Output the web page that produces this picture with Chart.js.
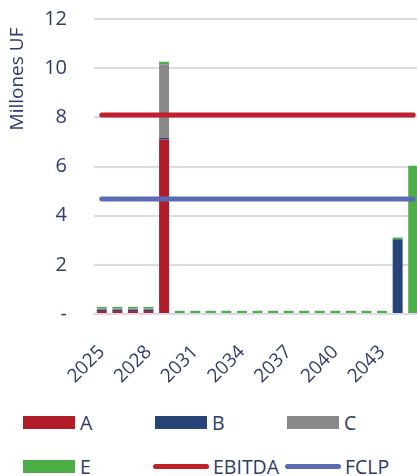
<!DOCTYPE html>
<html>
<head>
<meta charset="utf-8">
<script src="https://cdn.jsdelivr.net/npm/chart.js@4"></script>
<style>
  html, body { margin: 0; padding: 0; background: #fff; overflow: hidden; }
  body { width: 417px; height: 476px; position: relative; font-family: "Open Sans", sans-serif; }
  #wrap { position: absolute; left: 0; top: 0; width: 421px; height: 392px; }
  #legend { position: absolute; left: 0; top: 400px; width: 417px; height: 76px; }
  .item { position: absolute; display: flex; align-items: center; height: 26px; font-size: 19.5px; color: #2E3A6B; }
  .sw { display: inline-block; width: 52px; height: 13px; margin-right: 5px; }
  .ln { display: inline-block; width: 56px; height: 5px; border-radius: 3px; margin-right: 4px; }
</style>
</head>
<body>
<div id="wrap"><canvas id="c"></canvas></div>
<div id="legend"></div>
<script>
// Years on the category axis
const years = ["2025","2026","2027","2028","2029","2030","2031","2032","2033","2034","2035",
               "2036","2037","2038","2039","2040","2041","2042","2043","2044","2045"];

// Stacked components (Millones UF)
const serieA = [0.12,0.12,0.12,0.12,7.10,0,0,0,0,0,0,0,0,0,0,0,0,0,0,0,0];
const serieB = [0.06,0.06,0.06,0.06,0.07,0.04,0.04,0.04,0.04,0.04,0.04,0.04,0.04,0.04,0.04,0.04,0.04,0.04,0.04,3.04,0];
const serieC = [0.04,0.04,0.04,0.04,2.99,0,0,0,0,0,0,0,0,0,0,0,0,0,0,0,0];
const serieE = [0.07,0.07,0.07,0.07,0.10,0.09,0.09,0.09,0.09,0.09,0.09,0.09,0.09,0.09,0.09,0.09,0.09,0.09,0.09,0.07,6.03];

// Reference levels
const ebitda = years.map(() => 8.1);
const fclp   = years.map(() => 4.68);

// Y ticks
const yTicks = [0, 2, 4, 6, 8, 10, 12];

const TEXT = "#2E3A6B";
const GRID = "#D9DBEA";

const barSets = [
  { label: "A", data: serieA, color: "#B21C28" },
  { label: "B", data: serieB, color: "#264478" },
  { label: "C", data: serieC, color: "#888888" },
  { label: "E", data: serieE, color: "#4CAE47" }
];
const lineSets = [
  { label: "EBITDA", data: ebitda, color: "#C01F2C" },
  { label: "FCLP",   data: fclp,   color: "#5A6BB2" }
];

const datasets = [
  ...barSets.map(s => ({
    type: "bar", label: s.label, data: s.data, backgroundColor: s.color,
    stack: "bars", order: 1, categoryPercentage: 0.8, barPercentage: 0.8
  })),
  ...lineSets.map((s, i) => ({
    type: "line", label: s.label, data: s.data, borderColor: s.color,
    backgroundColor: s.color, borderWidth: 5, borderCapStyle: "round",
    pointRadius: 0, stack: "line" + i, order: 0
  }))
];

// Rotated axis title near the top of the value axis
const yTitle = {
  id: "yTitle",
  afterDraw(chart) {
    const ctx = chart.ctx;
    ctx.save();
    ctx.translate(18, chart.chartArea.top + 60);
    ctx.rotate(-Math.PI / 2);
    ctx.font = "19px 'Open Sans'";
    ctx.fillStyle = TEXT;
    ctx.textAlign = "center";
    ctx.textBaseline = "middle";
    ctx.fillText("Millones UF", 0, 0);
    ctx.restore();
  }
};

new Chart(document.getElementById("c"), {
  data: { labels: years, datasets },
  options: {
    responsive: true,
    maintainAspectRatio: false,
    animation: false,
    layout: { padding: { top: 19, right: 0, bottom: 0, left: 0 } },
    plugins: { legend: { display: false }, tooltip: { enabled: false } },
    scales: {
      x: {
        stacked: true,
        grid: { display: false, drawTicks: false },
        border: { display: true, color: GRID, width: 2 },
        ticks: {
          autoSkip: false, minRotation: 45, maxRotation: 45, padding: 27,
          color: TEXT, font: { family: "Open Sans", size: 19 },
          callback: function (v, i) { return i % 3 === 0 ? this.getLabelForValue(v) : ""; }
        },
        afterFit(s) { s.height = 78; s.paddingLeft = 0; s.paddingRight = 0; }
      },
      y: {
        stacked: true, min: 0, max: 12,
        afterBuildTicks(s) { s.ticks = yTicks.map(v => ({ value: v })); },
        grid: { color: GRID, lineWidth: 2, drawTicks: false },
        border: { display: false },
        ticks: {
          padding: 27, color: TEXT, font: { family: "Open Sans", size: 20 },
          callback: v => v === 0 ? "-" : String(v)
        },
        afterFit(s) { s.width = 94; s.paddingTop = 0; s.paddingBottom = 0; }
      }
    }
  },
  plugins: [yTitle]
});

// Legend in a three-column grid
const legend = document.getElementById("legend");
const entries = [
  ...barSets.map(s => ({ label: s.label, color: s.color, kind: "sw" })),
  ...lineSets.map(s => ({ label: s.label, color: s.color, kind: "ln" }))
];
const cols = [23, 155, 287];
const rows = [9, 53];
entries.forEach((e, i) => {
  const d = document.createElement("div");
  d.className = "item";
  const col = i % 3, row = Math.floor(i / 3);
  d.style.left = (cols[col] - (e.kind === "ln" ? 2 : 0)) + "px";
  d.style.top = rows[row] + "px";
  const m = document.createElement("span");
  m.className = e.kind;
  m.style.background = e.color;
  d.appendChild(m);
  d.appendChild(document.createTextNode(e.label));
  legend.appendChild(d);
});
</script>
</body>
</html>
